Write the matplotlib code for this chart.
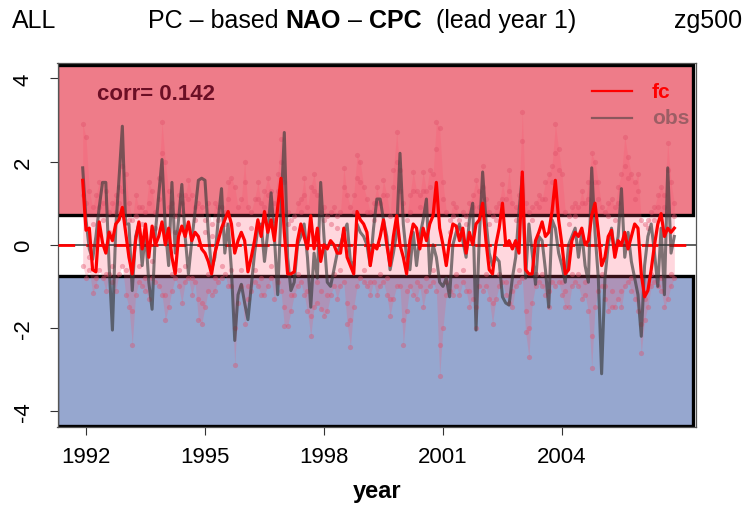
import numpy as np
import matplotlib
matplotlib.use("Agg")
import matplotlib.pyplot as plt
from matplotlib.patches import Rectangle

# ---------------- data ----------------
start_year = 1991.917          # first month (Dec 1991), monthly steps
corr_value = 0.142
upper_thr, lower_thr = 0.71, -0.75
xticks = [1992, 1995, 1998, 2001, 2004]
yticks = [-4, -2, 0, 2, 4]

fc = [1.55, 0.35, 0.4, -0.6, -0.65, 0.55, 0.05, -0.2, 0.3, 0.1, 0.5, 0.6,
      0.9, 0.3, -0.3, -0.7, 0.1, 0.55, -0.1, 0.5, -0.3, 0.45, 0.0, 0.2,
      0.55, 0.0, 0.4, -0.3, -0.7, 0.2, 0.45, 0.2, 0.55, 0.1, 0.3, 0.2,
      -0.1, -0.2, -0.4, -0.7, -0.2, 0.1, 0.4, 0.6, 0.8, 0.5, -0.2, 0.1,
      0.3, 0.1, -0.65, -0.3, 0.1, 0.6, 0.2, 0.8, 0.3, 0.6, 0.1, 0.9,
      1.6, 0.3, -0.7, -0.7, -0.65, 0.1, 0.5, 0.2, -0.1, 0.7, -0.1, 0.4,
      -0.4, 0.0, -0.1, 0.1, 0.0, -0.2, -0.2, 0.4, -0.3, -0.5, -0.7, 0.8,
      0.6, 0.5, 0.3, -0.5, 0.0, -0.1, 0.2, 0.6, 0.0, -0.5, 0.2, 0.7,
      0.0, -0.3, -0.7, 0.1, 0.5, 0.4, -0.1, 0.4, 0.1, 0.5, 0.7, 1.5,
      0.4, 0.0, -0.5, 0.1, 0.5, 0.45, 0.1, 0.4, -0.2, 0.3, 0.0, 0.5,
      0.6, 1.0, 0.1, -0.6, -0.7, 0.0, 0.4, 1.0, 0.0, 0.1, -0.1, 0.1,
      -0.2, 1.75, -0.6, -0.7, -0.7, 0.1, 0.3, 0.55, 0.2, 0.3, 0.8, 1.55,
      0.6, 0.0, -0.7, -0.6, 0.1, 0.3, 0.2, 0.4, 0.0, 0.1, 0.7, 1.0,
      0.3, -0.5, -0.3, 0.2, 0.35, -0.3, 0.1, 0.0, 0.3, -0.1, 0.2, 0.5,
      0.4, -0.7, -1.25, -1.1, -0.6, 0.0, 0.5, 0.75, 0.2, 0.4, 0.3, 0.4]

obs = [1.85, 0.6, -0.1, -0.35, 0.2, 0.9, 1.5, 1.5, -0.5, -2.05, 0.4, 1.6,
       2.85, 0.5, 0.5, -1.1, 0.2, 0.5, -0.5, 0.3, -0.9, -1.55, 0.3, 1.2,
       2.05, 0.4, -0.5, 1.5, -0.2, 0.6, 1.45, 0.2, -0.7, 0.1, 0.8, 1.55,
       1.6, 1.55, 0.3, -0.6, -0.3, 0.6, 1.35, -0.2, 0.5, -0.6, -2.3, -1.2,
       -0.95, -1.4, -1.8, -1.0, -0.2, 0.4, 0.5, -0.4, 0.3, 1.25, 0.2, -1.2,
       0.8, 2.7, -0.3, -1.1, -0.9, 0.0, 0.2, 0.5, -0.3, -1.5, -0.2, -0.8,
       1.5, 0.2, -0.9, -1.0, -0.6, -0.2, 0.0, 0.3, 0.5, -0.4, -0.5, 0.5,
       0.3, 0.2, 0.0, -0.5, 0.4, 1.1, 1.1, 0.6, 0.2, -0.6, -0.2, 0.3,
       2.2, 0.5, -0.3, -0.6, 0.3, -0.5, 0.2, 0.6, 1.1, -0.7, 0.0, -0.3,
       -0.9, -1.0, -0.8, -1.25, 0.0, 0.3, 0.5, 0.1, -0.3, 0.6, 1.0, -2.05,
       0.2, 1.75, 0.6, -0.2, -0.5, -0.3, -0.4, -1.25, -1.4, -1.45, -0.8, -0.3,
       0.8, 1.65, -0.8, 0.5, -0.2, -0.95, 0.2, 0.1, -0.6, -1.5, 0.6, 0.4,
       -0.2, -0.5, -0.9, 0.0, 0.2, 0.4, -0.3, 0.3, -0.5, -0.9, 1.85, 0.3,
       -0.8, -3.1, -0.8, 0.0, 0.4, -0.2, 0.2, 1.35, -0.3, 0.3, -0.4, -0.8,
       -1.2, -2.2, -0.5, 0.2, 0.5, -0.2, -1.0, 0.4, -1.2, 1.85, -0.2, 0.2]

ens_hi = [2.9, 2.6, 1.3, 0.9, 1.2, 1.5, 1.0, 1.3, 0.8, 1.0, 1.2, 1.4,
          1.9, 1.7, 1.0, 0.6, 1.2, 0.9, 0.9, 0.8, 1.5, 1.3, 0.8, 1.6,
          2.95, 2.0, 1.3, 1.0, 0.7, 1.2, 1.0, 1.2, 1.55, 1.2, 0.9, 1.0,
          0.9, 0.6, 1.0, 0.5, 1.0, 0.9, 0.9, 0.8, 1.5, 1.6, 1.4, 0.9,
          1.1, 2.0, 0.9, 0.8, 1.1, 1.5, 1.0, 1.3, 1.6, 1.3, 1.0, 1.7,
          2.55, 1.5, 0.8, 0.6, 0.7, 1.0, 1.1, 1.6, 0.9, 1.4, 1.7, 1.2,
          0.8, 0.9, 0.7, 0.8, 0.9, 0.7, 0.8, 1.85, 1.2, 0.9, 1.2, 2.15,
          2.0, 1.4, 1.1, 0.8, 1.0, 1.4, 1.0, 1.55, 1.2, 0.7, 1.8, 2.7,
          1.8, 1.0, 0.6, 1.2, 1.75, 1.3, 1.2, 1.75, 1.3, 1.8, 1.7, 2.95,
          2.8, 1.5, 0.8, 0.6, 1.0, 0.9, 0.6, 0.8, 0.7, 1.0, 1.2, 1.55,
          1.3, 1.9, 1.1, 0.8, 0.7, 0.9, 1.0, 1.45, 1.1, 1.8, 1.0, 0.9,
          1.2, 3.2, 1.0, 0.8, 0.9, 1.0, 1.2, 1.1, 1.5, 1.7, 1.9, 2.9,
          2.3, 1.7, 0.8, 0.7, 0.9, 1.0, 0.9, 1.3, 1.0, 1.5, 2.2, 2.0,
          1.5, 0.9, 0.8, 1.0, 1.1, 0.9, 1.4, 1.7, 2.6, 2.1, 1.7, 1.5,
          1.7, 0.6, 0.5, 0.6, 0.8, 0.9, 1.2, 1.4, 1.2, 2.45, 1.5, 1.0]

ens_lo = [-0.5, -0.8, -0.6, -1.15, -1.0, -0.6, -0.8, -1.1, -0.7, -0.9, -1.1, -0.7,
          -0.5, -1.2, -1.5, -2.4, -1.2, -0.9, -1.0, -1.1, -1.3, -0.8, -0.9, -1.0,
          -1.2, -1.8, -1.5, -1.1, -0.8, -1.0, -1.4, -0.9, -0.8, -1.2, -0.9, -1.8,
          -1.9, -1.5, -1.1, -1.2, -1.1, -0.9, -0.8, -0.7, -1.0, -1.0, -2.9, -1.4,
          -1.0, -1.9, -1.3, -1.1, -0.9, -1.0, -1.2, -1.2, -1.0, -0.8, -1.3, -0.9,
          -1.1, -1.95, -1.95, -1.6, -1.2, -1.0, -0.9, -1.2, -1.6, -2.2, -1.5, -1.4,
          -1.55, -1.7, -1.6, -1.2, -1.0, -1.3, -1.0, -0.9, -1.9, -2.45, -1.5, -1.0,
          -0.8, -0.9, -1.0, -1.2, -0.9, -1.2, -1.0, -0.9, -1.2, -1.7, -1.3, -1.0,
          -1.0, -2.4, -1.6, -1.0, -1.2, -1.3, -1.0, -1.5, -1.1, -1.0, -0.9, -1.1,
          -3.15, -2.0, -1.2, -1.1, -1.2, -1.0, -1.2, -0.9, -1.1, -1.5, -1.3, -2.0,
          -1.0, -1.1, -1.0, -1.3, -1.9, -1.3, -1.0, -0.9, -1.2, -1.4, -1.5, -1.0,
          -0.9, -0.8, -2.1, -2.7, -1.4, -1.0, -0.9, -1.0, -1.2, -1.5, -0.9, -1.0,
          -0.9, -1.2, -1.5, -1.5, -1.0, -0.9, -1.0, -1.3, -1.2, -1.6, -2.95, -1.5,
          -1.1, -1.0, -1.3, -1.6, -1.5, -1.5, -1.3, -1.5, -1.0, -0.9, -1.1, -1.3,
          -1.6, -2.6, -1.8, -1.5, -1.0, -0.9, -1.0, -1.1, -1.5, -1.3, -1.0, -0.8]

ens_mem = [1.2, 1.0, -0.3, 0.5, -0.8, 0.9, 0.6, -0.7, 0.3, -0.5, 0.8, 1.0,
           1.3, -0.6, 0.6, -1.6, 0.7, -0.5, 0.5, -0.8, 1.0, -0.4, 0.4, 1.1,
           2.2, -1.2, 0.9, -0.7, 0.3, -0.6, 0.8, -0.5, 1.1, -0.8, 0.6, -1.3,
           -1.4, 0.3, -0.7, 0.2, -0.8, 0.6, -0.5, 0.5, 1.1, -0.6, -2.0, 0.5,
           -0.6, 1.5, -1.0, 0.4, -0.6, 1.1, -0.8, 0.9, 1.2, -0.5, 0.6, 1.3,
           2.0, -1.5, 0.5, -1.2, 0.4, -0.7, 0.8, 1.2, -1.1, -1.7, 1.3, -0.9,
           -1.1, 0.6, -1.2, 0.5, -0.7, 0.4, -0.6, 1.4, -1.4, -1.8, 0.8, 1.6,
           1.5, -0.6, 0.8, -0.9, 0.6, 1.0, -0.7, 1.2, -0.8, -1.3, 1.4, 2.0,
           1.3, -1.8, -1.1, 0.8, 1.3, -0.9, 0.9, 1.3, -0.8, 1.4, -0.6, 2.3,
           -2.4, 1.1, -0.9, 0.3, 0.7, -0.7, 0.4, -0.6, 0.5, -1.1, 0.9, -1.5,
           0.9, 1.4, -0.7, 0.5, -1.4, 0.6, -0.7, 1.1, -0.9, 1.3, -1.1, 0.6,
           -0.6, 2.5, -1.6, -2.0, 0.6, -0.7, 0.9, -0.7, 1.1, -1.1, 1.5, 2.2,
           1.8, -0.9, -1.1, 0.5, -0.7, 0.7, -0.7, 1.0, -0.9, 1.1, -2.2, 1.5,
           1.1, -0.7, -1.0, 0.7, -1.1, 0.6, 1.0, -1.1, 1.9, 1.6, -0.8, 1.1,
           1.3, -1.9, -1.3, 0.4, -0.7, 0.6, 0.9, -0.8, 0.9, 1.8, -0.7, 0.7]

# ---------------- figure ----------------
W, H = 746, 506
fig = plt.figure(figsize=(W / 100, H / 100), dpi=100)
plt.rcParams['font.family'] = ['Liberation Sans', 'DejaVu Sans']

ax = fig.add_axes([57.5 / W, 1 - 428 / H, (696 - 57.5) / W, (428 - 64) / H])
t = start_year + np.arange(len(fc)) / 12.0

x0, x1 = 1991.282, 2007.38
ax.set_xlim(x0, x1)
ax.set_ylim(-4.38, 4.37)

red_col = '#EE7C89'
blue_col = '#96A7CF'
rect_right = 2007.293
ax.add_patch(Rectangle((x0, upper_thr), rect_right - x0, 4.32 - upper_thr,
                       facecolor=red_col, edgecolor='black', lw=2.4, zorder=1))
ax.add_patch(Rectangle((x0, -4.35), rect_right - x0, lower_thr + 4.35,
                       facecolor=blue_col, edgecolor='black', lw=2.4, zorder=1))

# ensemble spread
ax.fill_between(t, ens_lo, ens_hi, color='#FF4D6A', alpha=0.22, lw=0, zorder=2)
for member in (ens_hi, ens_lo, ens_mem):
    ax.scatter(t, member, s=14, color='#E0506A', alpha=0.42, lw=0, zorder=3)

# zero lines
ax.axhline(0, color='#444444', lw=1.2, zorder=4)
ax.axhline(0, color='red', lw=2.0, ls=(0, (6, 4)), zorder=4)

ax.plot(t, obs, color='#3A3A3A', alpha=0.65, lw=2.2, zorder=5)
ax.plot(t, fc, color='red', lw=2.3, zorder=6)

# axes styling
for s in ax.spines.values():
    s.set_color('#555555')
    s.set_linewidth(0.9)
ax.set_xticks(xticks)
ax.set_xticklabels([str(v) for v in xticks], fontsize=16)
ax.set_yticks(yticks)
ax.set_yticklabels([str(v) for v in yticks], fontsize=16, rotation=90, va='center')
ax.tick_params(axis='x', length=6, pad=8, color='#333333')
ax.tick_params(axis='y', length=6, pad=11, color='#333333')

# texts
def ftext(px, py, s, **kw):
    return fig.text(px / W, 1 - py / H, s, **kw)

ftext(97, 95, f"corr= {corr_value}", fontsize=16, fontweight='bold',
      color='#6B0F25', va='center', ha='left')

lx0, lx1 = 592 / W, 632 / W
fig.add_artist(plt.Line2D([lx0, lx1], [1 - 92 / H] * 2, color='red', lw=1.6))
fig.add_artist(plt.Line2D([lx0, lx1], [1 - 119 / H] * 2, color='#3A3A3A', alpha=0.55, lw=1.6))
ftext(652, 92, "fc", fontsize=15, fontweight='bold', color='red', va='center')
ftext(652, 119, "obs", fontsize=15, fontweight='bold', color='#3A3A3A', alpha=0.45, va='center')

ftext(12, 28, "ALL", fontsize=18, va='baseline', ha='left')
ftext(742, 28, "zg500", fontsize=18, va='baseline', ha='right')

# middle title assembled from pieces
pieces = [("PC – based ", 'normal'), ("NAO", 'bold'), (" – ", 'normal'),
          ("CPC", 'bold'), ("  (lead year 1)", 'normal')]
renderer = fig.canvas.get_renderer()
arts, widths = [], []
for s, w in pieces:
    a = ftext(0, 28, s, fontsize=18, fontweight=w, va='baseline', ha='left')
    bb = a.get_window_extent(renderer=renderer)
    arts.append(a)
    widths.append(bb.width)
total = sum(widths)
cur = 362 - total / 2
for a, wd in zip(arts, widths):
    a.set_x(cur / W)
    cur += wd

ftext(377, 498, "year", fontsize=17, fontweight='bold', ha='center', va='baseline')

fig.savefig("out.png", dpi=100)
